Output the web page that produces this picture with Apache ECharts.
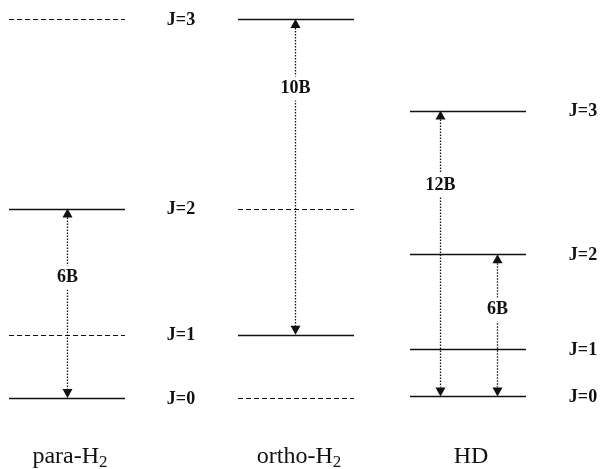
<!DOCTYPE html>
<html><head><meta charset="utf-8">
<script src="https://cdn.jsdelivr.net/npm/echarts@6/dist/echarts.min.js"></script>
<style>html,body{margin:0;padding:0;background:#fff}#c{width:600px;height:469px}</style>
</head><body><div id="c"></div>
<script>
// ---- data ----
const species = ['para', 'ortho', 'HD'];
const speciesSub = ['2', '2', ''];
const jNames = ['J=0', 'J=1', 'J=2', 'J=3'];
const paraEnergy = [0, 2, 6, 12];      // in units of B(H2)
const orthoEnergy = [0, 2, 6, 12];
const hdEnergy = [0.05, 1.55, 4.55, 9.1];
const paraSolid = [1, 0, 1, 0];
const orthoSolid = [0, 1, 0, 1];
const hdSolid = [1, 1, 1, 1];
const transSpecies = [0, 1, 2, 2];
const transLower = [0, 1, 0, 0];
const transUpper = [2, 3, 3, 2];
const transLabels = ['6B', '10B', '12B', '6B'];

// ---- layout (not data) ----
const COL_X = [67, 296, 468];
const HALF = 58;
const JLABEL_X = [181, 181, 583];
const ARROW_X = [67, 295, 440, 497];
const LABEL_FRAC = [0.635, 0.78, 0.74, 0.61];
const INK = '#111';
const FONT = '"Liberation Serif", "Times New Roman", serif';

const energies = [paraEnergy, orthoEnergy, hdEnergy];
const solids = [paraSolid, orthoSolid, hdSolid];

const levelData = [];
energies.forEach((arr, s) => arr.forEach((e, j) => levelData.push([s, e, solids[s][j], j])));

const jLabelData = [];
paraEnergy.forEach((e, j) => jLabelData.push([0, e, j]));
hdEnergy.forEach((e, j) => jLabelData.push([2, e, j]));

const transData = transSpecies.map((s, i) => [i, energies[s][transLower[i]], energies[s][transUpper[i]]]);
const speciesData = species.map((n, i) => [i, 0]);

const chart = echarts.init(document.getElementById('c'), null, {renderer: 'canvas'});
chart.setOption({
  animation: false,
  backgroundColor: '#fff',
  grid: {left: 0, right: 0, top: 19, bottom: 71},
  xAxis: {type: 'value', min: 0, max: 600, show: false},
  yAxis: {type: 'value', min: 0, max: 12, show: false},
  series: [
    {
      type: 'custom', data: levelData, clip: false,
      renderItem(params, api) {
        const p = api.coord([COL_X[api.value(0)], api.value(1)]);
        const solid = api.value(2) === 1;
        const y = Math.round(p[1]) + 0.5;
        return {type: 'line', shape: {x1: p[0] - HALF, y1: y, x2: p[0] + HALF, y2: y},
          style: {stroke: INK, lineWidth: solid ? 1.5 : 1.2, lineDash: solid ? null : [5, 3]}};
      }
    },
    {
      type: 'custom', data: jLabelData, clip: false,
      renderItem(params, api) {
        const p = api.coord([JLABEL_X[api.value(0)], api.value(1)]);
        return {type: 'text', x: p[0], y: p[1] + 1,
          style: {text: jNames[api.value(2)], fill: INK, font: 'bold 18px ' + FONT, align: 'center', verticalAlign: 'middle'}};
      }
    },
    {
      type: 'custom', data: transData, clip: false,
      renderItem(params, api) {
        const i = api.value(0);
        const lo = api.coord([ARROW_X[i], api.value(1)]);
        const hi = api.coord([ARROW_X[i], api.value(2)]);
        const x = lo[0] + 0.5, aw = 5, ah = 9;
        const ly = lo[1] + (hi[1] - lo[1]) * LABEL_FRAC[i];
        return {type: 'group', children: [
          {type: 'line', shape: {x1: x, y1: hi[1] + ah, x2: x, y2: lo[1] - ah}, style: {stroke: INK, lineWidth: 1.3, lineDash: [1.5, 1.5]}},
          {type: 'polygon', shape: {points: [[x, hi[1]], [x - aw, hi[1] + ah], [x + aw, hi[1] + ah]]}, style: {fill: INK}},
          {type: 'polygon', shape: {points: [[x, lo[1]], [x - aw, lo[1] - ah], [x + aw, lo[1] - ah]]}, style: {fill: INK}},
          {type: 'text', x: x, y: ly, style: {text: transLabels[i], fill: INK, font: 'bold 18px ' + FONT, align: 'center', verticalAlign: 'middle', backgroundColor: '#fff', padding: [3, 1]}}
        ]};
      }
    },
    {
      type: 'custom', data: speciesData, clip: false,
      renderItem(params, api) {
        const i = api.value(0);
        const p = api.coord([COL_X[i], api.value(1)]);
        const name = i < 2 ? species[i] + '-H{sub|' + speciesSub[i] + '}' : species[i];
        return {type: 'text', x: p[0] + 3, y: p[1] + 59,
          style: {text: name, fill: INK, font: '24px ' + FONT, align: 'center', verticalAlign: 'middle',
            rich: {sub: {font: '17px ' + FONT, fill: INK, padding: [12, 0, 0, 0]}}}};
      }
    }
  ]
});
</script></body></html>
